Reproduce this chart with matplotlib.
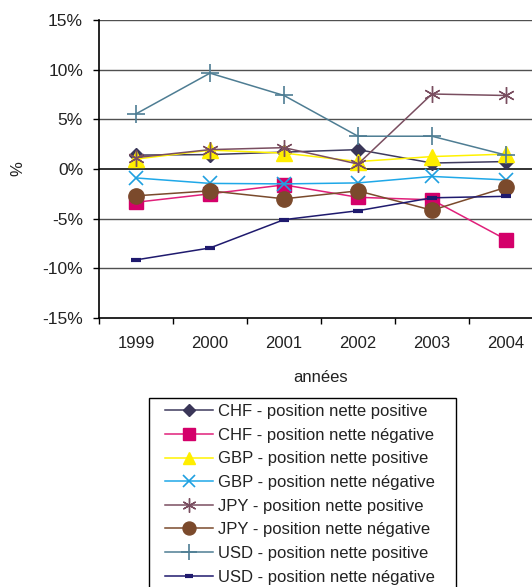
import matplotlib
matplotlib.use("Agg")
import matplotlib.pyplot as plt
from matplotlib.patches import Rectangle

plt.rcParams['font.family'] = ['Liberation Sans', 'DejaVu Sans']

years = ["1999", "2000", "2001", "2002", "2003", "2004"]
chf_pos = [1.4, 1.45, 1.7, 1.95, 0.6, 0.75]
chf_neg = [-3.35, -2.5, -1.6, -2.85, -3.1, -7.1]
gbp_pos = [1.0, 1.9, 1.6, 0.75, 1.25, 1.5]
gbp_neg = [-0.9, -1.45, -1.5, -1.4, -0.75, -1.1]
jpy_pos = [1.15, 1.95, 2.15, 0.5, 7.55, 7.4]
jpy_neg = [-2.7, -2.2, -3.0, -2.2, -4.15, -1.85]
usd_pos = [5.55, 9.65, 7.4, 3.3, 3.3, 1.4]
usd_neg = [-9.15, -7.95, -5.1, -4.2, -2.9, -2.75]

labels = [
    "CHF - position nette positive",
    "CHF - position nette négative",
    "GBP - position nette positive",
    "GBP - position nette négative",
    "JPY - position nette positive",
    "JPY - position nette négative",
    "USD - position nette positive",
    "USD - position nette négative",
]
series = [chf_pos, chf_neg, gbp_pos, gbp_neg, jpy_pos, jpy_neg, usd_pos, usd_neg]
styles = [
    dict(color="#3F3B5E", marker="D", ms=7.5, mfc="#3A3658", mec="#3A3658"),
    dict(color="#E0207A", marker="s", ms=10, mfc="#D4006A", mec="#D4006A"),
    dict(color="#FFF200", marker="^", ms=11, mfc="#FFEE00", mec="#FFEE00"),
    dict(color="#1FA8E8", marker="x", ms=10, mfc="#1FA0E0", mec="#1FA0E0", mew=1.2),
    dict(color="#7A4E60", marker=(6, 2, 0), ms=12, mfc="#7A4E60", mec="#7A4E60", mew=1.0),
    dict(color="#7A4A2C", marker="o", ms=11, mfc="#7B4A2C", mec="#7B4A2C"),
    dict(color="#4E7D93", marker="+", ms=13, mfc="#4E7D93", mec="#4E7D93", mew=1.2),
    dict(color="#1F1A6E", marker="_", ms=7, mfc="#1F1A6E", mec="#1F1A6E", mew=3),
]

W, H = 532, 587
fig = plt.figure(figsize=(W / 100, H / 100), dpi=100)
ax = fig.add_axes([99 / W, (H - 318) / H, 444 / W, 298 / H])

x = list(range(len(years)))
for s, lab, st in zip(series, labels, styles):
    ax.plot(x, s, lw=1.1, label=lab, **st)

ax.set_xlim(-0.5, len(years) - 0.5)
ax.set_ylim(-15, 15)
ax.set_yticks([-15, -10, -5, 0, 5, 10, 15])
ax.set_yticklabels(["-15%", "-10%", "-5%", "0%", "5%", "10%", "15%"], fontsize=12.5, color="#222222")
for yv in [-10, -5, 5, 10, 15]:
    ax.axhline(yv, color="#505050", lw=1.0, zorder=0)
ax.axhline(0, color="#222222", lw=1.3, zorder=0)

ax.set_xticks(x)
ax.set_xticklabels(years, fontsize=12, color="#222222")
ax.set_xticks([i - 0.5 for i in range(len(years) + 1)], minor=True)
ax.tick_params(axis="x", which="major", length=0, pad=13)
ax.tick_params(axis="x", which="minor", length=4, width=1, direction="out")
ax.tick_params(axis="y", length=4.5, width=1, direction="out", pad=7)

for side in ["top", "right"]:
    ax.spines[side].set_visible(False)
ax.spines["left"].set_linewidth(1.2)
ax.spines["bottom"].set_linewidth(1.2)

ax.set_xlabel("années", fontsize=12, color="#222222", labelpad=14)
ax.set_ylabel("%", fontsize=12, color="#222222", labelpad=12)

handles, labs = ax.get_legend_handles_labels()
leg = fig.legend(handles, labs, loc="upper left",
                 bbox_to_anchor=(165 / W, 1 - 404 / H),
                 fontsize=12, frameon=False, markerscale=0.85,
                 handlelength=2.9, handletextpad=0.3, labelspacing=0.52,
                 borderpad=0, borderaxespad=0)
for t in leg.get_texts():
    t.set_color("#222222")

fig.patches.append(Rectangle((149 / W, -0.05), (456 - 149) / W, (H - 398) / H + 0.05,
                             transform=fig.transFigure, fill=False,
                             edgecolor="black", lw=1.0, zorder=0))

fig.savefig("out.png", dpi=100)
